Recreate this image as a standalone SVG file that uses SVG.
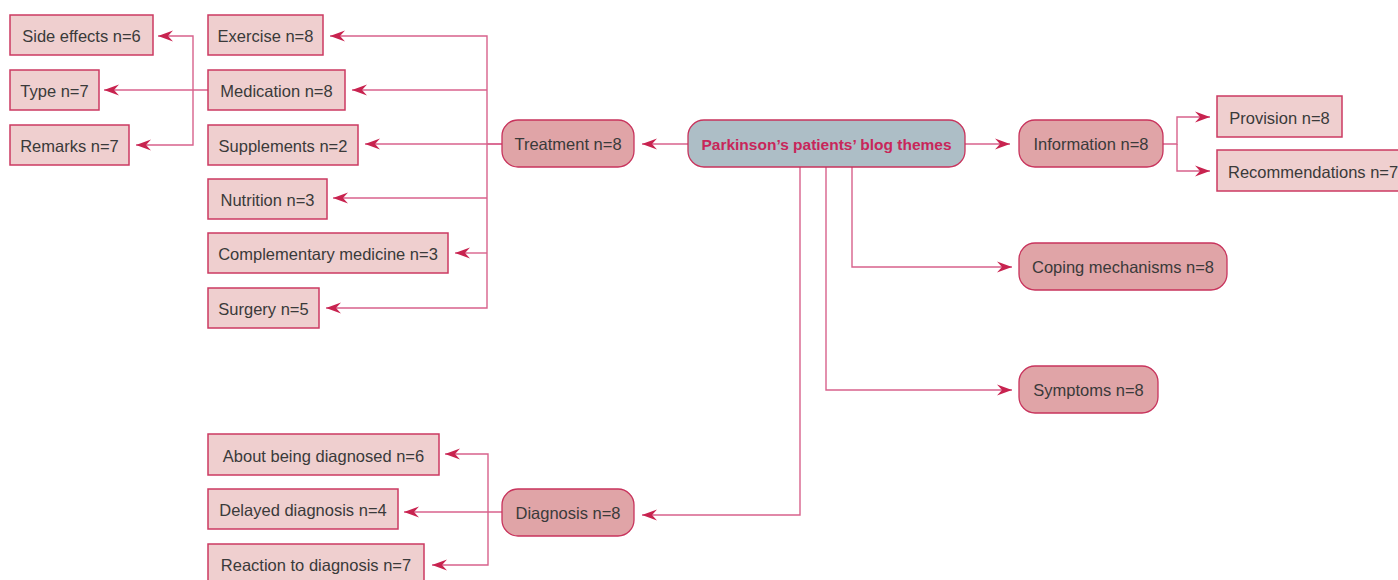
<svg xmlns="http://www.w3.org/2000/svg" width="1398" height="580" viewBox="0 0 1398 580">
<style>
.box{fill:#efcfcf;stroke:#cc3a62;stroke-width:1.5}
.rnd{fill:#e0a4a7;stroke:#c8335c;stroke-width:1.3}
.ctr{fill:#adbec6;stroke:#c8335c;stroke-width:1.3}
text{font-family:"Liberation Sans",Arial,sans-serif;font-size:16.5px;fill:#3a3a3a;text-anchor:middle}
.title{font-weight:bold;fill:#c8265a;font-size:15.5px}
.ln{fill:none;stroke:#d8628c;stroke-width:1.4}
.arr{marker-end:url(#ah)}
</style>
<defs>
<marker id="ah" viewBox="-16 -6 17 12" refX="0" refY="0" markerWidth="17" markerHeight="12" markerUnits="userSpaceOnUse" orient="auto">
<path d="M0,0 L-15,-5.5 L-10,0 L-15,5.5 Z" fill="#c8234f"/>
</marker>
</defs>
<g id="connectors">
<path class="ln arr" d="M208,90 H104"/>
<path class="ln arr" d="M193,90 V36 H158"/>
<path class="ln arr" d="M193,90 V145 H136"/>
<path class="ln" d="M502,144 H487"/>
<path class="ln arr" d="M487,144 V36 H330"/>
<path class="ln arr" d="M487,90 H352"/>
<path class="ln arr" d="M502,144 H365"/>
<path class="ln arr" d="M487,198 H333"/>
<path class="ln arr" d="M487,253 H455"/>
<path class="ln arr" d="M487,144 V308 H326"/>
<path class="ln arr" d="M688,144 H642"/>
<path class="ln arr" d="M965,144 H1010"/>
<path class="ln arr" d="M1163,144 H1177 V117 H1210"/>
<path class="ln arr" d="M1177,144 V171 H1210"/>
<path class="ln arr" d="M852,167 V267 H1012"/>
<path class="ln arr" d="M826,167 V390 H1012"/>
<path class="ln arr" d="M800,167 V515 H642"/>
<path class="ln arr" d="M502,512 H404"/>
<path class="ln arr" d="M488,512 V454 H445"/>
<path class="ln arr" d="M488,512 V565 H432"/>
</g>
<g id="side-effects"><rect class="box" x="10" y="15" width="143" height="40"/><text x="81.5" y="42">Side effects n=6</text></g>
<g id="type"><rect class="box" x="10" y="70" width="89" height="40"/><text x="54.5" y="97">Type n=7</text></g>
<g id="remarks"><rect class="box" x="10" y="125" width="119" height="40"/><text x="69.5" y="152">Remarks n=7</text></g>
<g id="exercise"><rect class="box" x="208" y="15" width="115" height="40"/><text x="265.5" y="42">Exercise n=8</text></g>
<g id="medication"><rect class="box" x="208" y="70" width="137" height="40"/><text x="276.5" y="97">Medication n=8</text></g>
<g id="supplements"><rect class="box" x="208" y="125" width="150" height="40"/><text x="283" y="152">Supplements n=2</text></g>
<g id="nutrition"><rect class="box" x="208" y="179" width="119" height="40"/><text x="267.5" y="206">Nutrition n=3</text></g>
<g id="complementary"><rect class="box" x="208" y="233" width="240" height="40"/><text x="328" y="260">Complementary medicine n=3</text></g>
<g id="surgery"><rect class="box" x="208" y="288" width="111" height="40"/><text x="263.5" y="315">Surgery n=5</text></g>
<g id="about-diagnosed"><rect class="box" x="208" y="434" width="231" height="41"/><text x="323.5" y="461.5">About being diagnosed n=6</text></g>
<g id="delayed-diagnosis"><rect class="box" x="208" y="489" width="190" height="40"/><text x="303" y="516">Delayed diagnosis n=4</text></g>
<g id="reaction-diagnosis"><rect class="box" x="208" y="544" width="216" height="40"/><text x="316" y="571">Reaction to diagnosis n=7</text></g>
<g id="provision"><rect class="box" x="1217" y="96" width="125" height="41"/><text x="1279.5" y="123.5">Provision n=8</text></g>
<g id="recommendations"><rect class="box" x="1217" y="150" width="190" height="41"/><text x="1228" y="177.5" style="text-anchor:start">Recommendations n=7</text></g>
<g id="treatment"><rect class="rnd" x="502" y="120" width="132" height="47" rx="16"/><text x="568" y="150">Treatment n=8</text></g>
<g id="central"><rect class="ctr" x="688" y="120" width="277" height="47" rx="16"/><text class="title" x="826.5" y="149.5">Parkinson’s patients’ blog themes</text></g>
<g id="information"><rect class="rnd" x="1019" y="120" width="144" height="47" rx="16"/><text x="1091" y="150">Information n=8</text></g>
<g id="coping"><rect class="rnd" x="1019" y="243" width="208" height="47" rx="16"/><text x="1123" y="273">Coping mechanisms n=8</text></g>
<g id="symptoms"><rect class="rnd" x="1019" y="366" width="139" height="47" rx="16"/><text x="1088.5" y="396">Symptoms n=8</text></g>
<g id="diagnosis"><rect class="rnd" x="502" y="489" width="132" height="47" rx="16"/><text x="568" y="519">Diagnosis n=8</text></g>
</svg>
